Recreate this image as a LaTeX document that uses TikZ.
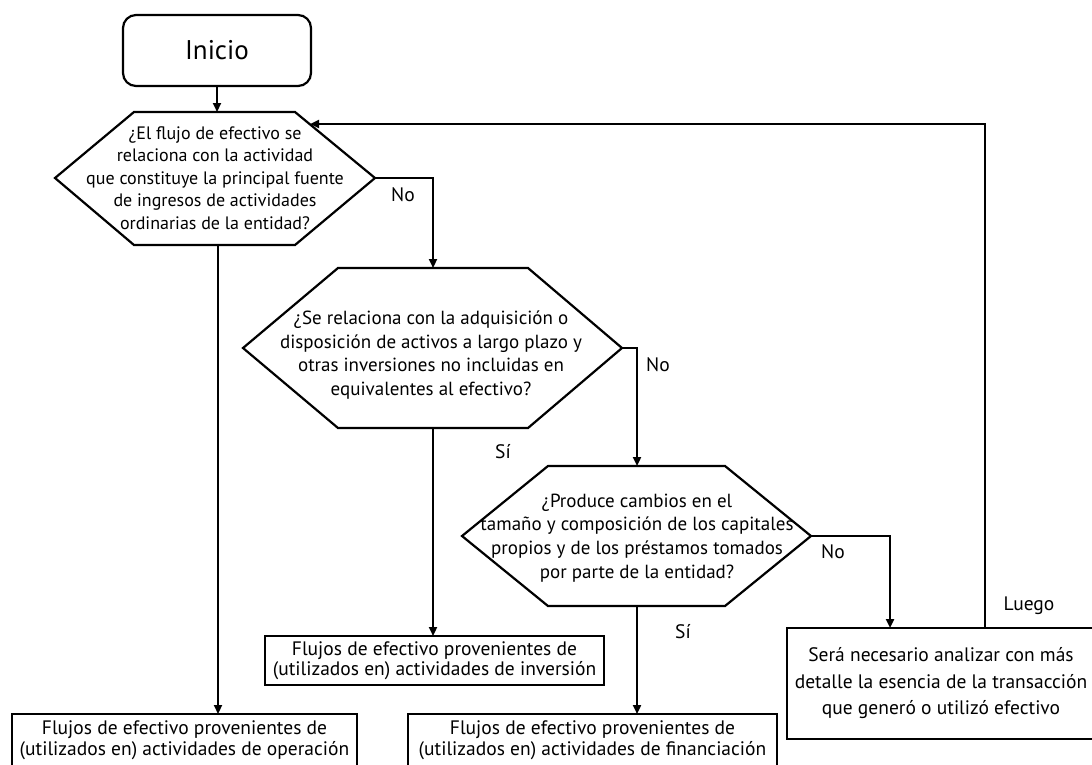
\documentclass[tikz,border=0pt]{standalone}
\usepackage{fontspec}
\setmainfont{PT Sans}
\usetikzlibrary{arrows.meta}
\begin{document}
\begin{tikzpicture}[x=1pt,y=-1pt,
  line width=2.2pt,
  conn/.style={draw, line width=2.2pt, -{Triangle[length=9pt,width=8pt]}},
  hexline/.style={draw, line width=2.2pt, line join=miter},
  qtext/.style={align=center, inner sep=0pt, font=\fontsize{19}{23.7}\selectfont},
  qtexta/.style={align=center, inner sep=0pt, font=\fontsize{18}{22.4}\selectfont},
  resbox/.style={draw, line width=2.2pt, align=center, inner sep=0pt, font=\fontsize{19.5}{20.5}\selectfont},
  lbl/.style={inner sep=0pt, font=\fontsize{19.5}{22}\selectfont},
  startbox/.style={draw, line width=2.2pt, rounded corners=13pt, minimum width=188pt, minimum height=71pt, font=\fontsize{27}{32}\selectfont}
]
\useasboundingbox (0,0) rectangle (1092,764);

% start
\node[startbox] (ini) at (217,50.5) {Inicio};

% decision 1
\coordinate (h1a) at (134,112);
\coordinate (h1b) at (295,112);
\coordinate (h1e) at (375,178);
\coordinate (h1c) at (295,245);
\coordinate (h1d) at (134,245);
\coordinate (h1w) at (55,178);
\draw[hexline] (h1a) -- (h1b) -- (h1e) -- (h1c) -- (h1d) -- (h1w) -- cycle;
\node[qtexta] (q1) at (215,178) {¿El flujo de efectivo se\\relaciona con la actividad\\que constituye la principal fuente\\de ingresos de actividades\\ordinarias de la entidad?};
\coordinate (h1n) at (217,112);
\coordinate (h1s) at (218,245);
\coordinate (h1in) at (310,124);

% decision 2
\coordinate (h2a) at (338,268);
\coordinate (h2b) at (528,268);
\coordinate (h2e) at (622,348);
\coordinate (h2c) at (528,428);
\coordinate (h2d) at (338,428);
\coordinate (h2w) at (243,348);
\draw[hexline] (h2a) -- (h2b) -- (h2e) -- (h2c) -- (h2d) -- (h2w) -- cycle;
\node[qtext] (q2) at (431,355) {¿Se relaciona con la adquisición o\\disposición de activos a largo plazo y\\otras inversiones no incluidas en\\equivalentes al efectivo?};
\coordinate (h2n) at (433,268);
\coordinate (h2s) at (433,428);

% decision 3
\coordinate (h3a) at (548,466);
\coordinate (h3b) at (725,466);
\coordinate (h3e) at (811,536);
\coordinate (h3c) at (725,606);
\coordinate (h3d) at (548,606);
\coordinate (h3w) at (462,536);
\draw[hexline] (h3a) -- (h3b) -- (h3e) -- (h3c) -- (h3d) -- (h3w) -- cycle;
\node[qtext] (q3) at (637,538) {¿Produce cambios en el\\tamaño y composición de los capitales\\propios y de los préstamos tomados\\por parte de la entidad?};
\coordinate (h3n) at (637,466);
\coordinate (h3s) at (637,606);

% result boxes
\node[resbox, minimum width=345pt, minimum height=52pt] (r1) at (184.5,740) {Flujos de efectivo provenientes de\\(utilizados en) actividades de operación};
\node[resbox, minimum width=339pt, minimum height=49pt] (r2) at (434.5,660.5) {Flujos de efectivo provenientes de\\(utilizados en) actividades de inversión};
\node[resbox, minimum width=369pt, minimum height=52pt] (r3) at (592.5,740) {Flujos de efectivo provenientes de\\(utilizados en) actividades de financiación};
\node[resbox, minimum width=308pt, minimum height=111pt, font=\fontsize{19.5}{26.5}\selectfont] (r4) at (941,683.5) {Será necesario analizar con más\\detalle la esencia de la transacción\\que generó o utilizó efectivo};

% helper coordinates on boxes
\coordinate (r1t) at (218,714);
\coordinate (r2t) at (433,636);
\coordinate (r3t) at (637,714);
\coordinate (r4t) at (890,628);
\coordinate (r4u) at (985,628);
\coordinate (k1) at (433,178);
\coordinate (k2) at (637,348);
\coordinate (k3) at (890,536);
\coordinate (k4) at (985,124);

% connectors
\draw[conn] (ini.south) -- (h1n);
\draw[conn] (h1s) -- (r1t);
\draw[conn] (h1e) -- (k1) -- (h2n);
\draw[conn] (h2s) -- (r2t);
\draw[conn] (h2e) -- (k2) -- (h3n);
\draw[conn] (h3s) -- (r3t);
\draw[conn] (h3e) -- (k3) -- (r4t);
\draw[conn] (r4u) -- (k4) -- (h1in);

% labels
\node[lbl] (l1) at (403,195) {No};
\node[lbl] (l2) at (658,365) {No};
\node[lbl] (l3) at (503,452) {Sí};
\node[lbl] (l4) at (833,552) {No};
\node[lbl] (l5) at (683,632) {Sí};
\node[lbl] (l6) at (1029,606) {Luego};
\end{tikzpicture}
\end{document}
